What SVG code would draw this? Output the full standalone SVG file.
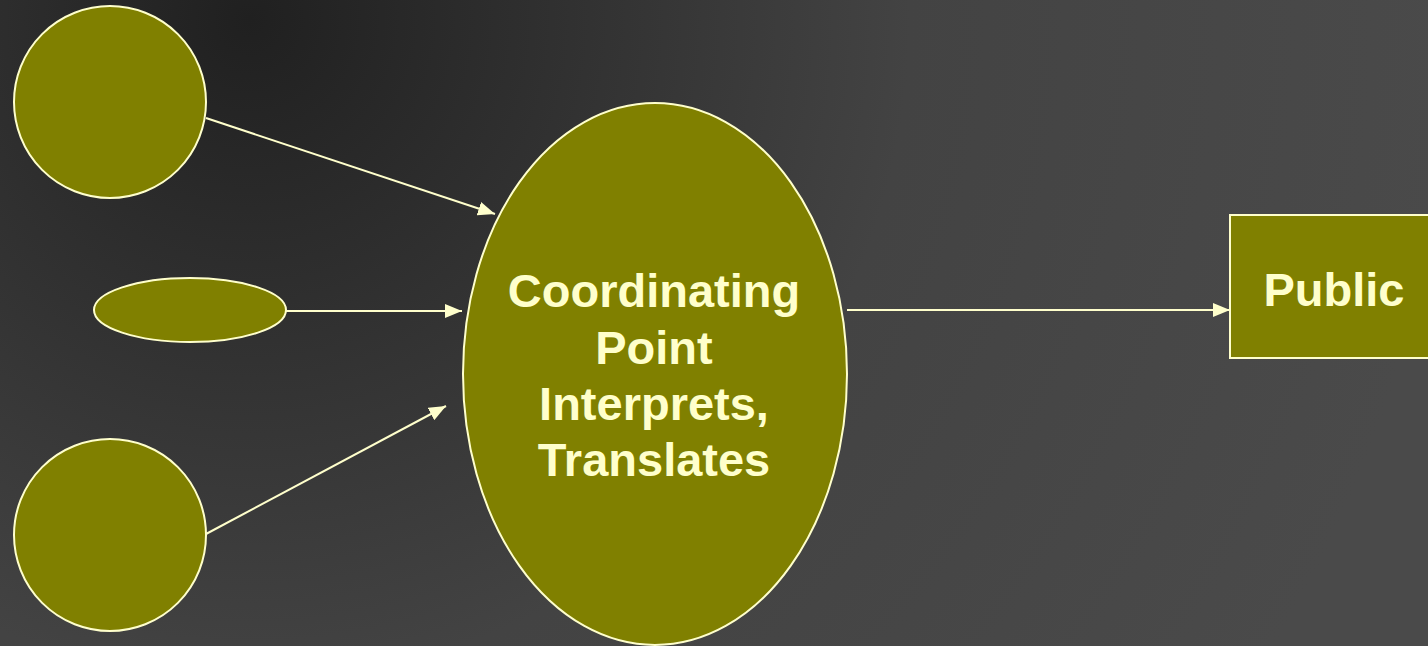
<svg xmlns="http://www.w3.org/2000/svg" width="1428" height="646" viewBox="0 0 1428 646">
  <defs>
    <radialGradient id="bg" gradientUnits="userSpaceOnUse" cx="250" cy="20" r="1200">
      <stop offset="0" stop-color="#202020"/>
      <stop offset="0.55" stop-color="#434343"/>
      <stop offset="1" stop-color="#4a4a4a"/>
    </radialGradient>
    <marker id="arrow" markerUnits="userSpaceOnUse" markerWidth="18" markerHeight="14" refX="17" refY="7" orient="auto">
      <path d="M0,0 L17,7 L0,14 Z" fill="#ffffcc"/>
    </marker>
    <style>
      .node { fill: #808000; stroke: #ffffcc; stroke-width: 2; }
      .edge { stroke: #ffffcc; stroke-width: 2; fill: none; marker-end: url(#arrow); }
      .label { fill: #ffffcc; font-family: "Liberation Sans", Arial, sans-serif; font-weight: bold; font-size: 47px; text-anchor: middle; }
    </style>
  </defs>

  <rect width="1428" height="646" fill="url(#bg)"/>

  <g id="connectors">
    <line class="edge" x1="206" y1="118" x2="495" y2="214"/>
    <line class="edge" x1="286" y1="311" x2="462" y2="311"/>
    <line class="edge" x1="206" y1="534" x2="446" y2="406"/>
    <line class="edge" x1="847" y1="310" x2="1230" y2="310"/>
  </g>

  <g id="source-top">
    <circle class="node" cx="110" cy="102" r="96"/>
  </g>
  <g id="source-middle">
    <ellipse class="node" cx="190" cy="310" rx="96" ry="32"/>
  </g>
  <g id="source-bottom">
    <circle class="node" cx="110" cy="535" r="96"/>
  </g>

  <g id="coordinating-point">
    <ellipse class="node" cx="655" cy="374" rx="192" ry="271"/>
    <text class="label" x="654" y="307">Coordinating</text>
    <text class="label" x="654" y="364">Point</text>
    <text class="label" x="654" y="420">Interprets,</text>
    <text class="label" x="654" y="476">Translates</text>
  </g>

  <g id="public">
    <rect class="node" x="1230" y="215" width="210" height="143"/>
    <text class="label" x="1334" y="306">Public</text>
  </g>
</svg>
